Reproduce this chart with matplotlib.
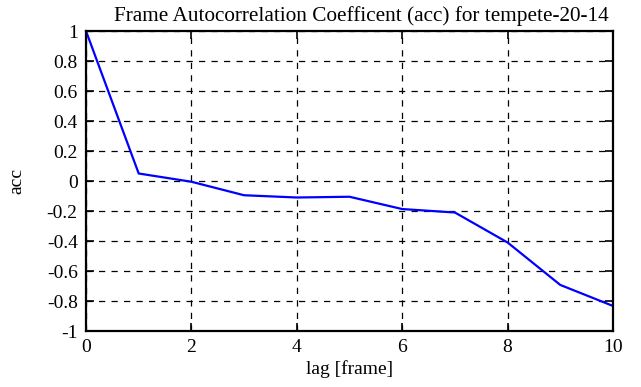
import matplotlib
matplotlib.use("Agg")
import matplotlib.pyplot as plt
import numpy as np

lags = [0, 1, 2, 3, 4, 5, 6, 7, 8, 9, 10]
acc = [1.0, 0.05, -0.005, -0.095, -0.11, -0.105, -0.187, -0.21, -0.41, -0.693, -0.833]
xticks = [0, 2, 4, 6, 8, 10]
yticks = [1, 0.8, 0.6, 0.4, 0.2, 0, -0.2, -0.4, -0.6, -0.8, -1]
ytick_labels = ["1", "0.8", "0.6", "0.4", "0.2", "0", "-0.2", "-0.4", "-0.6", "-0.8", "-1"]

plt.rcParams['font.family'] = ['Liberation Serif', 'DejaVu Serif']
plt.rcParams['font.size'] = 14

fig = plt.figure(figsize=(6.41, 3.87), dpi=100)
ax = fig.add_axes([86 / 641, 1 - 331 / 387, (613 - 86) / 641, 300 / 387])

ax.plot(lags, acc, color='blue', linewidth=1.6)

ax.set_xlim(0, 10)
ax.set_ylim(-1, 1)
ax.set_xticks(xticks)
ax.set_xticklabels([str(t) for t in xticks])
ax.set_yticks(yticks)
ax.set_yticklabels(ytick_labels)
ax.tick_params(direction='in', top=True, right=True, length=6, width=1.2, pad=6)
ax.grid(True, color='black', linestyle=(0, (5, 5)), linewidth=0.9)
for s in ax.spines.values():
    s.set_linewidth(1.6)

ax.set_xlabel('lag [frame]', labelpad=3)
ax.set_ylabel('acc', labelpad=15)
ax.set_title('Frame Autocorrelation Coefficent (acc) for tempete-20-14',
             fontsize=15.3, pad=7, x=0.523)

fig.savefig('out.png', dpi=100)
